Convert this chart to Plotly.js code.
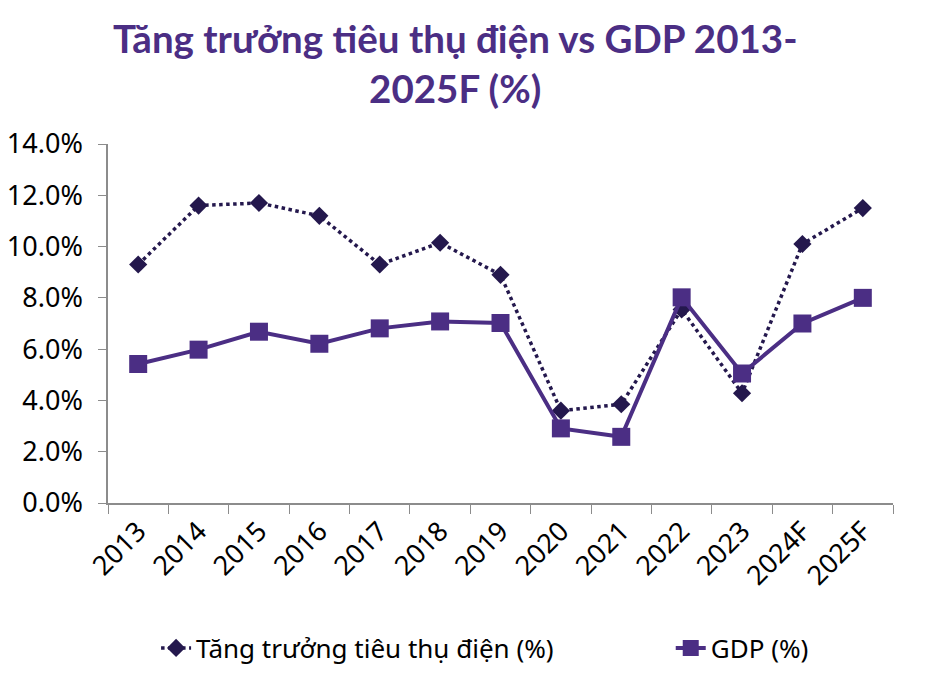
<!DOCTYPE html>
<html><head><meta charset="utf-8">
<script src="https://cdn.plot.ly/plotly-3.0.1.min.js"></script>
<style>html,body{margin:0;padding:0;background:#fff;}#chart{width:929px;height:680px;}</style>
</head><body><div id="chart"></div>
<script>
const categories = ["2013","2014","2015","2016","2017","2018","2019","2020","2021","2022","2023","2024F","2025F"];
const electricity = [9.3, 11.6, 11.7, 11.2, 9.3, 10.15, 8.9, 3.6, 3.85, 7.55, 4.28, 10.1, 11.5];
const gdp = [5.42, 5.98, 6.68, 6.21, 6.81, 7.08, 7.02, 2.91, 2.58, 8.02, 5.05, 7.0, 8.0];
const seriesNames = ["Tăng trưởng tiêu thụ điện (%)", "GDP (%)"];
const yTicks = [0, 2, 4, 6, 8, 10, 12, 14];

const traces = [
  {x: categories, y: electricity, name: seriesNames[0], type: "scatter", mode: "lines+markers",
   line: {color: "#24184d", width: 3.5, dash: "dot"},
   marker: {symbol: "diamond", size: 14, color: "#24184d"}, legend: "legend"},
  {x: categories, y: gdp, name: seriesNames[1], type: "scatter", mode: "lines+markers",
   line: {color: "#4b2e84", width: 4},
   marker: {symbol: "square", size: 18, color: "#4b2e84"}, legend: "legend2"}
];
const tickFont = {family: "Noto Sans", size: 27, color: "#000"};
const legendFont = {family: "Noto Sans", size: 26, color: "#000"};
const layout = {
  width: 929, height: 680,
  margin: {l: 108, r: 36, t: 144, b: 177},
  paper_bgcolor: "#fff", plot_bgcolor: "#fff",
  title: {text: "Tăng trưởng tiêu thụ điện vs GDP 2013-<br>2025F (%)", x: 0.49, xanchor: "center",
    yref: "container", y: 0.922, yanchor: "middle",
    font: {family: "Lato", size: 38.5, weight: 700, color: "#4b2e84"}},
  xaxis: {type: "category", range: [-0.5, 12.5], showline: true, linecolor: "#8c8c8c", linewidth: 1.5,
    ticks: "outside", ticklen: 9, tickcolor: "#8c8c8c", tickson: "boundaries", tickangle: -45,
    showgrid: false, zeroline: false, automargin: false, tickfont: tickFont},
  yaxis: {range: [0, 14], tickvals: yTicks, ticktext: yTicks.map(v => v.toFixed(1) + "%"),
    showline: true, linecolor: "#8c8c8c", linewidth: 1.5, ticks: "outside", ticklen: 8, tickcolor: "#8c8c8c",
    ticklabelstandoff: 10,
    showgrid: false, zeroline: false, automargin: false, tickfont: tickFont},
  legend: {orientation: "h", xref: "container", x: 0.168, xanchor: "left", yref: "container", y: 0.047, yanchor: "middle",
    font: legendFont},
  legend2: {orientation: "h", xref: "container", x: 0.722, xanchor: "left", yref: "container", y: 0.047, yanchor: "middle",
    font: legendFont},
  showlegend: true
};
Plotly.newPlot("chart", traces, layout, {displayModeBar: false});
</script></body></html>
